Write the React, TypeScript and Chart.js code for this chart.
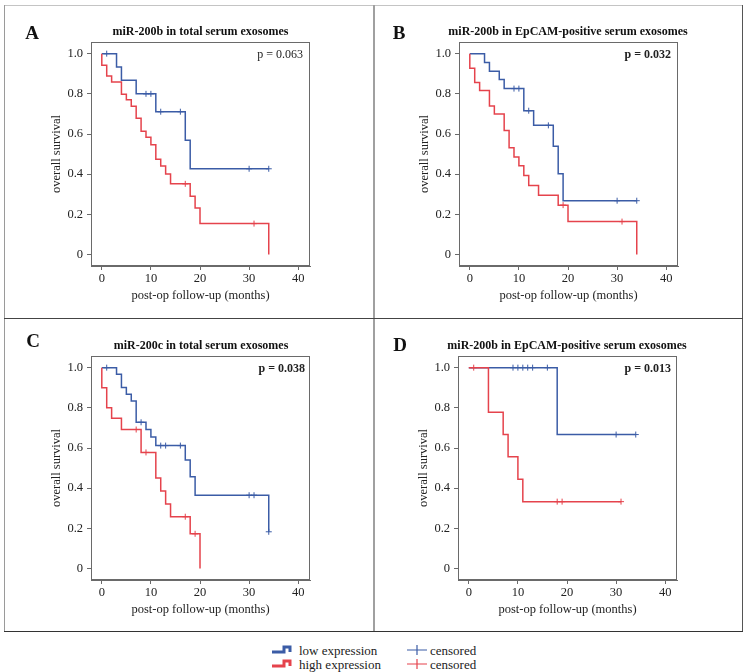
import React, { useEffect, useRef } from 'react';
import { Chart, registerables } from 'chart.js';

Chart.register(...registerables);

// ---------- axis ticks ----------
const xTicks = [0, 10, 20, 30, 40];
const yTicks = [0, 0.2, 0.4, 0.6, 0.8, 1.0];

// ---------- panel texts ----------
const letters = ['A', 'B', 'C', 'D'];
const titles = [
  'miR-200b in total serum exosomes',
  'miR-200b in EpCAM-positive serum exosomes',
  'miR-200c in total serum exosomes',
  'miR-200b in EpCAM-positive serum exosomes',
];
const pValues = ['p = 0.063', 'p = 0.032', 'p = 0.038', 'p = 0.013'];
const pBold = [false, true, true, true];
const xTitle = 'post-op follow-up (months)';
const yTitle = 'overall survival';

// ---------- Panel A ----------
const lowA_t = [0, 3, 4, 7, 11, 17, 18, 34];
const lowA_s = [1.0, 0.933, 0.867, 0.8, 0.711, 0.569, 0.427, 0.427];
const lowA_ct = [1, 9, 10, 12, 16, 30, 34];
const lowA_cs = [1.0, 0.8, 0.8, 0.711, 0.711, 0.427, 0.427];
const highA_t = [0, 0, 1, 2, 4, 5, 6, 7, 8, 9, 10, 11, 12, 13, 14, 18, 19, 20, 34];
const highA_s = [1.0, 0.942, 0.889, 0.859, 0.798, 0.771, 0.738, 0.678, 0.614, 0.584, 0.546, 0.474, 0.441, 0.401, 0.352, 0.29, 0.232, 0.154, 0];
const highA_ct = [17, 31];
const highA_cs = [0.352, 0.154];

// ---------- Panel B ----------
const lowB_t = [0, 3, 4, 6, 7, 11, 13, 17, 18, 19, 34];
const lowB_s = [1.0, 0.956, 0.913, 0.871, 0.826, 0.716, 0.643, 0.539, 0.402, 0.268, 0.268];
const lowB_ct = [9, 10, 12, 16, 30, 34];
const lowB_cs = [0.826, 0.826, 0.716, 0.643, 0.268, 0.268];
const highB_t = [0, 0, 1, 2, 4, 5, 7, 8, 9, 10, 11, 12, 14, 18, 20, 34];
const highB_s = [1.0, 0.927, 0.857, 0.817, 0.739, 0.7, 0.618, 0.532, 0.486, 0.442, 0.394, 0.344, 0.295, 0.246, 0.164, 0];
const highB_ct = [19, 31];
const highB_cs = [0.246, 0.164];

// ---------- Panel C ----------
const lowC_t = [0, 3, 4, 5, 6, 7, 9, 10, 11, 17, 18, 19, 34];
const lowC_s = [1.0, 0.967, 0.901, 0.868, 0.834, 0.728, 0.692, 0.655, 0.612, 0.54, 0.457, 0.365, 0.183];
const lowC_ct = [1, 8, 12, 13, 16, 30, 31, 34];
const lowC_cs = [1.0, 0.728, 0.612, 0.612, 0.612, 0.365, 0.365, 0.183];
const highC_t = [0, 0, 1, 2, 4, 8, 11, 12, 13, 14, 18, 20];
const highC_s = [1.0, 0.9, 0.8, 0.748, 0.692, 0.578, 0.451, 0.386, 0.321, 0.258, 0.173, 0];
const highC_ct = [7, 9, 17, 19];
const highC_cs = [0.692, 0.578, 0.258, 0.173];

// ---------- Panel D ----------
const lowD_t = [0, 18, 34];
const lowD_s = [1.0, 0.667, 0.667];
const lowD_ct = [9, 10, 11, 12, 13, 16, 30, 34];
const lowD_cs = [1.0, 1.0, 1.0, 1.0, 1.0, 1.0, 0.667, 0.667];
const highD_t = [0, 4, 7, 8, 10, 11, 31];
const highD_s = [1.0, 0.778, 0.667, 0.556, 0.444, 0.333, 0.333];
const highD_ct = [1, 18, 19, 31];
const highD_cs = [1.0, 0.333, 0.333, 0.333];

const BLUE = '#3b5ca6';
const RED = '#e5434c';
const FONT = '"Liberation Serif", "Times New Roman", serif';
const TXT = '#222';

const panelData = [
  { lt: lowA_t, ls: lowA_s, lct: lowA_ct, lcs: lowA_cs, ht: highA_t, hs: highA_s, hct: highA_ct, hcs: highA_cs },
  { lt: lowB_t, ls: lowB_s, lct: lowB_ct, lcs: lowB_cs, ht: highB_t, hs: highB_s, hct: highB_ct, hcs: highB_cs },
  { lt: lowC_t, ls: lowC_s, lct: lowC_ct, lcs: lowC_cs, ht: highC_t, hs: highC_s, hct: highC_ct, hcs: highC_cs },
  { lt: lowD_t, ls: lowD_s, lct: lowD_ct, lcs: lowD_cs, ht: highD_t, hs: highD_s, hct: highD_ct, hcs: highD_cs },
];

// layout (positions only)
const panelOffsets = [
  { ox: 0, oy: 0 },
  { ox: 368, oy: 0 },
  { ox: 0, oy: 314 },
  { ox: 367, oy: 314 },
];
const letterPos = [
  { x: 32, y: 32 },
  { x: 399, y: 32 },
  { x: 33, y: 340 },
  { x: 400, y: 344 },
];
const titlePos = [
  { x: 200.5, y: 31 },
  { x: 568, y: 31 },
  { x: 201, y: 345 },
  { x: 567, y: 345 },
];
const pPos = [
  { r: 303, y: 54 },
  { r: 671, y: 54 },
  { r: 305, y: 368 },
  { r: 671, y: 368 },
];

const pts = (t: number[], s: number[]) => t.map((x, i) => ({ x, y: s[i] }));

const framePlugin = {
  id: 'frame',
  afterDatasetsDraw(chart: any) {
    const { ctx, chartArea } = chart;
    const { left, top, right, bottom } = chartArea;
    ctx.save();
    ctx.strokeStyle = '#6a6a6a';
    ctx.lineWidth = 1;
    ctx.strokeRect(Math.round(left) + 0.5, Math.round(top) + 0.5, Math.round(right - left) - 1, Math.round(bottom - top) - 1);
    ctx.restore();
  },
};

function KMChart({ idx }: { idx: number }) {
  const ref = useRef<HTMLCanvasElement>(null);
  useEffect(() => {
    const d = panelData[idx];
    const tickFont = { family: FONT, size: 12.5 };
    const titleFont = { family: FONT, size: 12.5 };
    const chart = new Chart(ref.current as HTMLCanvasElement, {
      type: 'line',
      data: {
        datasets: [
          { label: 'high censored', data: pts(d.hct, d.hcs), showLine: false, pointStyle: 'cross', pointRadius: 3, borderColor: RED, backgroundColor: RED, borderWidth: 1 },
          { label: 'low censored', data: pts(d.lct, d.lcs), showLine: false, pointStyle: 'cross', pointRadius: 3, borderColor: BLUE, backgroundColor: BLUE, borderWidth: 1 },
          { label: 'high expression', data: pts(d.ht, d.hs), stepped: true, borderColor: RED, borderWidth: 1.5, pointRadius: 0, fill: false },
          { label: 'low expression', data: pts(d.lt, d.ls), stepped: true, borderColor: BLUE, borderWidth: 1.5, pointRadius: 0, fill: false },
        ],
      } as any,
      options: {
        animation: false,
        responsive: false,
        layout: { padding: { left: 11, right: 20, top: 12, bottom: 4 } },
        plugins: { legend: { display: false }, tooltip: { enabled: false }, title: { display: false } },
        scales: {
          x: {
            type: 'linear',
            min: -2.2,
            max: 42.4,
            afterBuildTicks: (a: any) => { a.ticks = xTicks.map((v) => ({ value: v })); },
            afterFit: (a: any) => { a.height = 40; },
            grid: { display: true, drawOnChartArea: false, tickLength: 4, color: '#6a6a6a' },
            border: { display: true, color: '#6a6a6a' },
            ticks: { padding: 1, font: tickFont, color: TXT, maxRotation: 0, autoSkip: false, callback: (v: any) => String(v) },
            title: { display: true, text: xTitle, font: titleFont, color: TXT, padding: { top: 0, bottom: 2.5 } },
          },
          y: {
            type: 'linear',
            min: -0.057,
            max: 1.058,
            afterBuildTicks: (a: any) => { a.ticks = yTicks.map((v) => ({ value: v })); },
            afterFit: (a: any) => { a.width = 60; },
            grid: { display: true, drawOnChartArea: false, tickLength: 4, color: '#6a6a6a' },
            border: { display: true, color: '#6a6a6a' },
            ticks: { padding: 4, font: tickFont, color: TXT, autoSkip: false, callback: (v: any) => (v === 0 ? '0' : Number(v).toFixed(1)) },
            title: { display: true, text: yTitle, font: titleFont, color: TXT, padding: { top: 18.5, bottom: 0 } },
          },
        },
      } as any,
      plugins: [framePlugin],
    });
    return () => chart.destroy();
  }, [idx]);
  const o = panelOffsets[idx];
  return (
    <canvas
      ref={ref}
      width={310}
      height={280}
      style={{ position: 'absolute', left: 20 + o.ox, top: 30 + o.oy, width: 310, height: 280 }}
    />
  );
}

const abs = (extra: React.CSSProperties): React.CSSProperties => ({
  position: 'absolute',
  whiteSpace: 'nowrap',
  lineHeight: 1,
  fontFamily: FONT,
  color: TXT,
  ...extra,
});

function StepIcon({ color }: { color: string }) {
  return (
    <svg width={22} height={10} style={{ display: 'block' }}>
      <path d="M1 7 H13 V2 H19 V7" stroke={color} strokeWidth={3} fill="none" />
    </svg>
  );
}

function CrossIcon({ color }: { color: string }) {
  return (
    <svg width={22} height={12} style={{ display: 'block' }}>
      <path d="M1 6 H21 M11 1 V11" stroke={color} strokeWidth={1.2} fill="none" />
    </svg>
  );
}

export default function App() {
  return (
    <div style={{ position: 'absolute', left: 0, top: 0, width: 746, height: 672, background: '#fff', overflow: 'hidden' }}>
      {/* frame */}
      <div style={{ position: 'absolute', left: 4, top: 5, width: 739, height: 1, background: '#c4c4c4' }} />
      <div style={{ position: 'absolute', left: 4, top: 5, width: 1, height: 627, background: '#9a9a9a' }} />
      <div style={{ position: 'absolute', left: 373, top: 5, width: 2, height: 627, background: '#a0a0a0' }} />
      <div style={{ position: 'absolute', left: 742, top: 5, width: 1, height: 627, background: '#555' }} />
      <div style={{ position: 'absolute', left: 4, top: 318, width: 739, height: 1, background: '#444' }} />
      <div style={{ position: 'absolute', left: 4, top: 631, width: 739, height: 1, background: '#333' }} />

      {[0, 1, 2, 3].map((i) => (
        <React.Fragment key={i}>
          <KMChart idx={i} />
          <div style={abs({ left: letterPos[i].x, top: letterPos[i].y, transform: 'translate(-50%, -50%)', fontSize: 19, fontWeight: 'bold', color: '#111' })}>
            {letters[i]}
          </div>
          <div style={abs({ left: titlePos[i].x, top: titlePos[i].y, transform: 'translate(-50%, -50%)', fontSize: 12, fontWeight: 'bold', color: '#111' })}>
            {titles[i]}
          </div>
          <div style={abs({ left: pPos[i].r, top: pPos[i].y, transform: 'translate(-100%, -50%)', fontSize: 12, fontWeight: pBold[i] ? 'bold' : 'normal' })}>
            {pValues[i]}
          </div>
        </React.Fragment>
      ))}

      {/* legend */}
      <div style={{ position: 'absolute', left: 271, top: 645 }}><StepIcon color={BLUE} /></div>
      <div style={{ position: 'absolute', left: 271, top: 659 }}><StepIcon color={RED} /></div>
      <div style={abs({ left: 299, top: 650, transform: 'translateY(-50%)', fontSize: 13 })}>low expression</div>
      <div style={abs({ left: 299, top: 663.5, transform: 'translateY(-50%)', fontSize: 13 })}>high expression</div>
      <div style={{ position: 'absolute', left: 406, top: 644 }}><CrossIcon color={BLUE} /></div>
      <div style={{ position: 'absolute', left: 406, top: 658 }}><CrossIcon color={RED} /></div>
      <div style={abs({ left: 430, top: 650, transform: 'translateY(-50%)', fontSize: 13 })}>censored</div>
      <div style={abs({ left: 430, top: 663.5, transform: 'translateY(-50%)', fontSize: 13 })}>censored</div>
    </div>
  );
}
